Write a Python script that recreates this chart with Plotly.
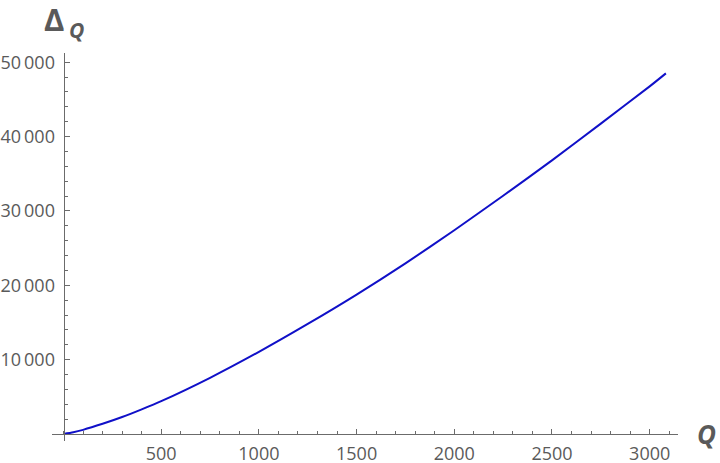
import plotly.graph_objects as go

# values
q_values = [0, 50, 100, 200, 300, 400, 500, 750, 1000, 1250, 1500, 1750, 2000, 2250, 2500, 2750, 3000, 3083]
delta_values = [0, 230, 560, 1370, 2280, 3320, 4420, 7560, 11050, 14800, 18750, 22950, 27400, 32050, 36800, 41750, 46750, 48500]

x_tick_vals = [500, 1000, 1500, 2000, 2500, 3000]
y_tick_vals = [10000, 20000, 30000, 40000, 50000]
y_tick_text = ["10\u2009000", "20\u2009000", "30\u2009000", "40\u2009000", "50\u2009000"]

x_range = [-59, 3145]
y_range = [-941, 51244]

axis_grey = "#6b6b6b"
text_grey = "#5a5a5a"

fig = go.Figure()
fig.add_trace(go.Scatter(
    x=q_values, y=delta_values, mode="lines",
    line=dict(color="#1010c8", width=2, shape="spline", smoothing=0.6),
    hoverinfo="skip",
))

fig.update_layout(
    width=720, height=463,
    margin=dict(l=52, r=42, t=53, b=22, autoexpand=False),
    paper_bgcolor="white", plot_bgcolor="white",
    showlegend=False,
    font=dict(family="Open Sans, Liberation Sans, sans-serif", size=18, color=text_grey),
)

fig.update_xaxes(
    range=x_range, showgrid=False, zeroline=False, automargin=False,
    anchor="free", position=(0 - y_range[0]) / (y_range[1] - y_range[0]),
    showline=True, linecolor=axis_grey, linewidth=1,
    tickvals=x_tick_vals, ticks="inside", ticklen=5, tickcolor=axis_grey,
    ticklabelstandoff=3,
    minor=dict(ticks="inside", ticklen=3, dtick=100, tick0=0, tickcolor=axis_grey),
)
fig.update_yaxes(
    range=y_range, showgrid=False, zeroline=False, automargin=False,
    anchor="free", position=(0 - x_range[0]) / (x_range[1] - x_range[0]),
    showline=True, linecolor=axis_grey, linewidth=1,
    tickvals=y_tick_vals, ticktext=y_tick_text,
    ticks="inside", ticklen=5, tickcolor=axis_grey,
    ticklabelstandoff=5,
    minor=dict(ticks="inside", ticklen=3, dtick=2000, tick0=0, tickcolor=axis_grey),
)

# axis labels
fig.add_annotation(text="<b><i>Q</i></b>", xref="paper", yref="paper",
                   x=1.0463, y=0.018, xanchor="center", yanchor="middle",
                   showarrow=False, font=dict(size=26, color=text_grey))
fig.add_annotation(text="<b>Δ</b>", xref="paper", yref="paper",
                   x=0.0024, y=1.088, xanchor="center", yanchor="middle",
                   showarrow=False, font=dict(size=31, color=text_grey))
fig.add_annotation(text="<b><i>Q</i></b>", xref="paper", yref="paper",
                   x=0.039, y=1.058, xanchor="center", yanchor="middle",
                   showarrow=False, font=dict(size=21, color=text_grey))

# drop the default 8px page margin so the figure sits at the window corner
fig.write_html("out.html", config={"displayModeBar": False},
               post_script="document.body.style.margin='0';")
